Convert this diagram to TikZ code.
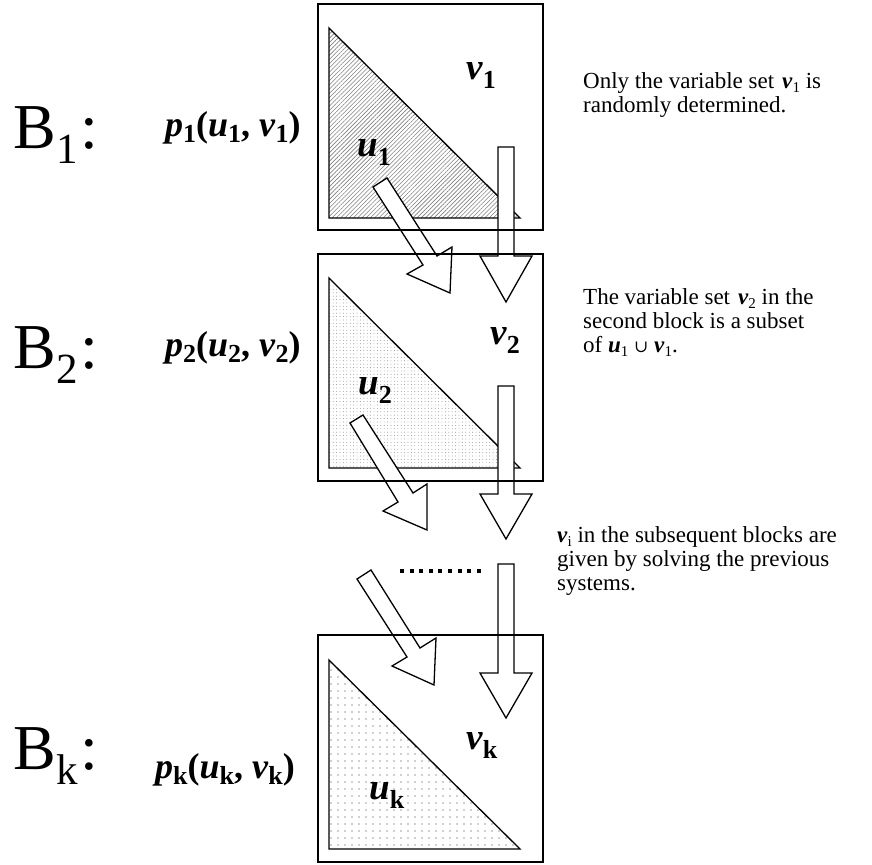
\documentclass[tikz,border=0pt]{standalone}
\usepackage{fontspec}
\setmainfont{Liberation Serif}
\newfontfamily\symfnt{DejaVu Serif}
\usetikzlibrary{patterns.meta}
\newcommand\Blab[1]{B\kern1pt\raisebox{-15pt}{\fontsize{43}{43}\selectfont #1}\kern2pt:}
\newcommand\pvar[2]{\textbf{\textit{#1}}\raisebox{-6pt}{\fontsize{26}{26}\selectfont\textbf{#2}}}
\newcommand\ivar[2]{\textbf{\textit{#1}}\raisebox{-9pt}{\fontsize{26}{26}\selectfont\textbf{#2}}}
\newcommand\tvar[2]{\textbf{\textit{#1}}\raisebox{-4pt}{\fontsize{15}{15}\selectfont #2}}
\newcommand\plab[1]{\pvar{p}{#1}\textbf{(}\pvar{u}{#1}\textbf{, }\pvar{v}{#1}\textbf{)}}
\newcommand\para[1]{\parbox[t]{280pt}{\fontsize{23}{24}\selectfont\raggedright #1}}
\newcommand\setunion{{\symfnt\fontsize{17}{17}\selectfont ∪}}
\begin{document}
\begin{tikzpicture}[x=1pt,y=-1pt,
  blk/.style={draw=black,line width=1.3pt},
  tri/.style={draw=black,line width=1.3pt,line join=miter},
  barrow/.style={draw=black,fill=white,line width=1.3pt,line join=miter},
  lbl/.style={inner sep=0pt,anchor=base west},
  biglbl/.style={lbl,font=\fontsize{64}{64}\selectfont},
  plbl/.style={lbl,font=\fontsize{36}{36}\selectfont},
  ilbl/.style={lbl,font=\fontsize{37}{37}\selectfont},
  txt/.style={lbl}]
\useasboundingbox (0,0) rectangle (872,864);

% triangles
\path[tri,pattern={Lines[angle=45,distance=3pt,line width=0.6pt]},pattern color=gray]
  (329,28) -- (329,218) -- (520,218) -- cycle;
\path[tri,pattern={Dots[distance=3.4pt,radius=0.45pt]},pattern color=gray]
  (329,278) -- (329,468) -- (520,468) -- cycle;
\path[tri,pattern={Dots[distance=6.5pt,radius=0.7pt]},pattern color=black!80]
  (329,660) -- (329,849) -- (520,849) -- cycle;

% block arrows
\draw[barrow] (498,147) -- (498,256) -- (480,256) -- (506,302) -- (532,256) -- (514,256) -- (514,147) -- cycle;
\draw[barrow] (498,386) -- (498,494) -- (480,494) -- (506,539) -- (532,494) -- (514,494) -- (514,386) -- cycle;
\draw[barrow] (498,564) -- (498,673) -- (480,673) -- (506,718) -- (532,673) -- (514,673) -- (514,564) -- cycle;
\draw[barrow] (373,187) -- (423,265) -- (407,274) -- (450,293) -- (452,247) -- (437,256) -- (387,178) -- cycle;
\draw[barrow] (350,423) -- (398,502) -- (383,511) -- (427,530) -- (427,484) -- (413,493) -- (363,415) -- cycle;
\draw[barrow] (357,579) -- (407,657) -- (392,666) -- (434,685) -- (436,638) -- (420,648) -- (371,570) -- cycle;

% blocks
\draw[blk] (318,4) rectangle (543,230);
\draw[blk] (318,254) rectangle (543,481);
\draw[blk] (318,635) rectangle (543,862);

% dots
\draw[line width=4pt,dash pattern=on 4pt off 5.6pt] (400,571) -- (481,571);

% labels inside blocks
\node[ilbl] (v1) at (466,80) {\ivar{v}{1}};
\node[ilbl] (u1) at (357,157) {\ivar{u}{1}};
\node[ilbl] (v2) at (490,344) {\ivar{v}{2}};
\node[ilbl] (u2) at (358,394) {\ivar{u}{2}};
\node[ilbl] (vk) at (466,749) {\ivar{v}{k}};
\node[ilbl] (uk) at (369,799) {\ivar{u}{k}};

% left labels
\node[biglbl] (B1) at (13,148) {\Blab{1}};
\node[biglbl] (B2) at (13,368) {\Blab{2}};
\node[biglbl] (Bk) at (13,769) {\Blab{k}};
\node[plbl] (p1) at (165,136) {\plab{1}};
\node[plbl] (p2) at (165,356) {\plab{2}};
\node[plbl] (pk) at (155,778) {\plab{k}};

% right texts
\node[txt] (t1) at (583,89) {\para{Only the variable set\kern8pt\tvar{v}{1} is\\randomly determined.}};
\node[txt] (t2) at (583,304) {\para{The variable set\kern8pt\tvar{v}{2} in the\\second block is a subset\\of \tvar{u}{1} \setunion{} \tvar{v}{1}.}};
\node[txt] (t3) at (557,542) {\para{\tvar{v}{i} in the subsequent blocks are\\given by solving the previous\\systems.}};
\end{tikzpicture}
\end{document}
